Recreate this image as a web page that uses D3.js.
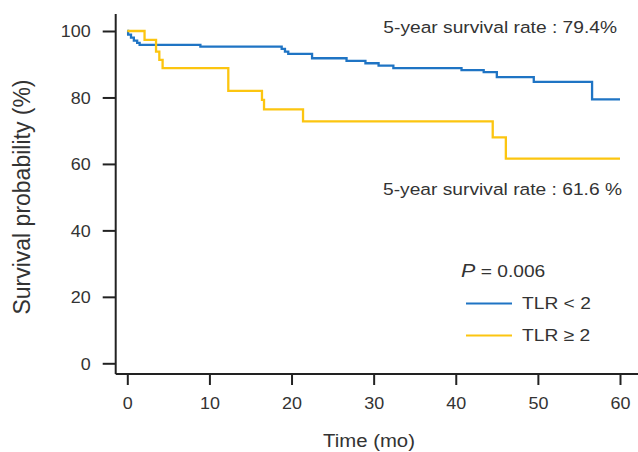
<!DOCTYPE html>
<html lang="en">
<head>
    <meta charset="UTF-8">
    <title>Survival by TLR</title>
    <style>
        body { margin: 0; background: #fff; }
        svg { display: block; }
        text { font-family: "Liberation Sans", Arial, sans-serif; fill: #333; }
    </style>
</head>
<body>
<script src="https://cdnjs.cloudflare.com/ajax/libs/d3/7.8.5/d3.min.js"></script>
<script>

    // Kaplan-Meier steps (time in months, survival in %)
    let lowTimes = [0, 0.1, 0.45, 0.8, 1.2, 1.5, 8.9, 18.8, 19.2, 19.6, 22.5, 26.7, 29.0, 30.6, 32.4, 40.7, 43.4, 45.0, 49.5, 56.6, 60]
    let lowSurv  = [100, 98.9, 98.0, 97.1, 96.4, 95.8, 95.3, 94.6, 93.8, 93.1, 91.8, 91.0, 90.3, 89.6, 88.8, 88.2, 87.6, 86.1, 84.7, 79.4, 79.4]

    let highTimes = [0, 2.1, 3.5, 3.9, 4.3, 12.3, 16.4, 16.65, 21.4, 44.5, 46.1, 60]
    let highSurv  = [100, 97.3, 93.8, 91.3, 88.8, 82.0, 79.3, 76.4, 72.8, 68.0, 61.6, 61.6]

    let xTicks = [0, 10, 20, 30, 40, 50, 60]
    let yTicks = [0, 20, 40, 60, 80, 100]
    let groupNames = ["TLR < 2", "TLR \u2265 2"]
    let rateLabels = ["5-year survival rate : 79.4%", "5-year survival rate : 61.6 %"]
    let pValue = "0.006"

    let width = 638, height = 452
    let colors = ["#1f74c4", "#fcc510"]
    let stretch = 1.13

    let svg = d3.select("body").append("svg")
        .attr("width", width)
        .attr("height", height)

    let x = d3.scaleLinear().domain([0, 60]).range([127.3, 620])
    let y = d3.scaleLinear().domain([0, 100]).range([363.3, 31])

    let axisX = 115.7, axisY = 374

    // y axis
    let gy = svg.append("g")
        .attr("transform", `translate(${axisX},0)`)
        .call(d3.axisLeft(y).tickValues(yTicks).tickSize(13).tickPadding(0).tickSizeOuter(0))
    gy.select(".domain").attr("d", `M0,14V${axisY}`)
    gy.selectAll(".tick text")
        .attr("x", 0)
        .attr("dy", "0.36em")
        .attr("transform", `translate(-25,0) scale(1.12,1)`)
        .style("font-size", "16px")

    // x axis
    let gx = svg.append("g")
        .attr("transform", `translate(0,${axisY})`)
        .call(d3.axisBottom(x).tickValues(xTicks).tickSize(11).tickPadding(0).tickSizeOuter(0))
    gx.select(".domain").attr("d", `M${axisX},0H${width}`)
    gx.selectAll(".tick text")
        .attr("y", 0)
        .attr("dy", 0)
        .attr("transform", `translate(0,35) scale(1.12,1)`)
        .style("font-size", "16px")

    svg.selectAll(".domain, .tick line")
        .attr("stroke", "#222")
        .attr("stroke-width", 2)
    svg.selectAll(".tick text").style("fill", "#333").attr("font-family", null)

    // curves
    let line = d3.line()
        .x(d => x(d[0]))
        .y(d => y(d[1]))
        .curve(d3.curveStepAfter)

    let series = [
        d3.zip(lowTimes, lowSurv),
        d3.zip(highTimes, highSurv)
    ]
    svg.selectAll("path.km")
        .data(series)
        .enter()
        .append("path")
            .attr("class", "km")
            .attr("d", line)
            .attr("fill", "none")
            .attr("stroke", (d, i) => colors[i])
            .attr("stroke-width", 2.3)

    function label(txt, tx, ty, size, anchor) {
        return svg.append("text")
            .attr("transform", `translate(${tx},${ty}) scale(${stretch},1)`)
            .attr("text-anchor", anchor || "start")
            .style("font-size", size + "px")
            .text(txt)
    }

    // annotations
    label(rateLabels[0], 617, 33, 17, "end")
    label(rateLabels[1], 622, 195, 17, "end")

    // axis titles
    label("Time (mo)", 369, 447, 18, "middle")
    svg.append("text")
        .attr("transform", `translate(30,197) rotate(-90) scale(1,1.08)`)
        .attr("text-anchor", "middle")
        .style("font-size", "23px")
        .text("Survival probability (%)")

    // legend
    let p = label("", 461, 277, 17)
    p.append("tspan").style("font-style", "italic").style("font-size", "19px").text("P")
    p.append("tspan").text(" = " + pValue)

    groupNames.forEach((g, i) => {
        let ly = 303.5 + i * 32
        svg.append("line")
            .attr("x1", 466).attr("x2", 512)
            .attr("y1", ly).attr("y2", ly)
            .attr("stroke", colors[i])
            .attr("stroke-width", 2)
        label(g, 522, ly + 5.5, 17)
    })

</script>
</body>
</html>
